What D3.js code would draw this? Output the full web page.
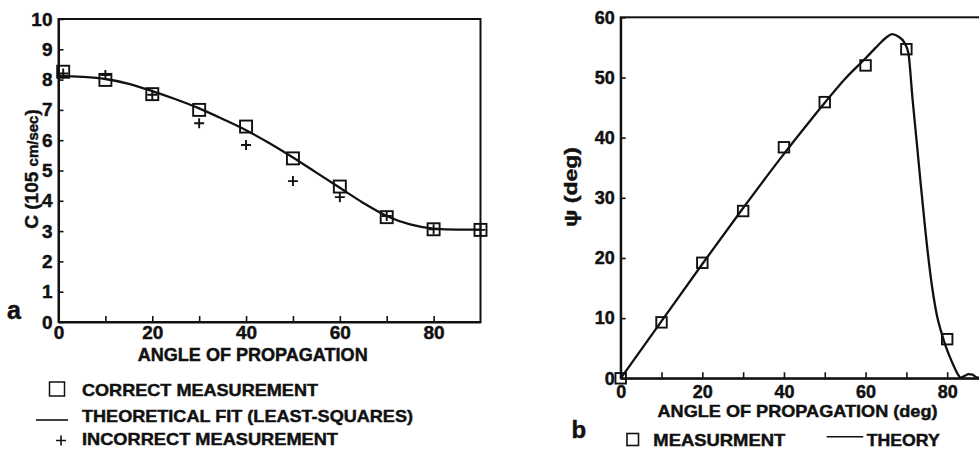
<!DOCTYPE html>
<html>
<head>
<meta charset="utf-8">
<script src="https://cdn.jsdelivr.net/npm/d3@7"></script>
<style>
  html, body { margin: 0; padding: 0; background: #fff; }
  svg { display: block; font-family: "Liberation Sans", Arial, Helvetica, sans-serif; font-weight: bold; }
  text { fill: #111; stroke: #111; stroke-width: 0.45px; }
</style>
</head>
<body>
<svg id="chart" width="979" height="449"></svg>
<script>
// Panel a: phase speed vs angle of propagation
const angleA = [1, 10, 20, 30, 40, 50, 60, 70, 80, 90];
const correctC = [8.26, 7.99, 7.52, 7.0, 6.45, 5.40, 4.47, 3.46, 3.06, 3.04];
const incorrectC = [8.2, 8.15, 7.5, 6.56, 5.84, 4.65, 4.12, 3.5, 3.06, 3.04];
const fitAngle = [0, 5, 10, 15, 20, 25, 30, 35, 40, 45, 50, 55, 60, 65, 70, 75, 80, 85, 90];
const fitC = [8.12, 8.09, 8.02, 7.86, 7.62, 7.35, 7.05, 6.7, 6.33, 5.9, 5.43, 4.93, 4.43, 3.93, 3.5, 3.22, 3.08, 3.05, 3.05];
const yTicksA = [0, 1, 2, 3, 4, 5, 6, 7, 8, 9, 10];

// Panel b: psi vs angle of propagation
const angleB = [0, 10, 20, 30, 40, 50, 60, 70, 80];
const measuredPsi = [0, 9.3, 19.2, 27.8, 38.4, 45.9, 52.0, 54.7, 6.5];
const theoryAngle = [0, 10, 20, 30, 40, 45, 50, 55, 60, 63, 65, 66.5, 68, 69.5, 70.5, 71.5, 72.5, 73.5, 74.5, 75.5, 76.5, 77.5, 78.5, 79.5, 80.5, 81.5, 82.5, 83.3, 84.3, 85.2, 86.2, 87.2, 88.5, 90];
const theoryPsi = [0, 9.5, 19, 28.3, 37.3, 41.6, 45.8, 49.8, 53.2, 55.3, 56.6, 57.2, 56.8, 55.8, 54, 46.5, 39.5, 32.4, 25.6, 19.4, 14.3, 10.4, 7.8, 5.6, 3.8, 2.2, 0.8, 0.1, 0.4, 0.7, 0.6, 0.15, 0, 0];
const yTicksB = [0, 10, 20, 30, 40, 50, 60];
const xTicks = [0, 10, 20, 30, 40, 50, 60, 70, 80, 90];

const svg = d3.select("#chart");
const INK = "#111";

function drawSquares(g, xs, ys, x, y, size, sw) {
  g.selectAll(null).data(xs.map((d, i) => [d, ys[i]])).join("rect")
    .attr("x", d => x(d[0]) - size / 2).attr("y", d => y(d[1]) - size / 2)
    .attr("width", size).attr("height", size)
    .attr("fill", "none").attr("stroke", INK).attr("stroke-width", sw);
}

function styleAxis(g, fontSize) {
  g.selectAll("path.domain").attr("stroke", INK).attr("stroke-width", 2);
  g.selectAll(".tick line").attr("stroke", INK).attr("stroke-width", 1.6);
  g.selectAll(".tick text").attr("fill", INK).attr("font-size", fontSize)
    .attr("font-family", "'Liberation Sans', Arial, sans-serif").attr("font-weight", "bold");
}

// ---------- Panel a ----------
const xA = d3.scaleLinear().domain([0, 90]).range([58.5, 480.5]);
const yA = d3.scaleLinear().domain([0, 10]).range([322, 19]);
const gA = svg.append("g");

gA.append("rect").attr("x", xA(0)).attr("y", yA(10))
  .attr("width", xA(90) - xA(0)).attr("height", yA(0) - yA(10))
  .attr("fill", "none").attr("stroke", INK).attr("stroke-width", 2);

const axLA = gA.append("g").attr("transform", `translate(${xA(0)},0)`)
  .call(d3.axisLeft(yA).tickValues(yTicksA).tickSizeInner(-5).tickSizeOuter(0).tickPadding(6).tickFormat(d3.format("d")));
styleAxis(axLA, 19);
const axBA = gA.append("g").attr("transform", `translate(0,${yA(0)})`)
  .call(d3.axisBottom(xA).tickValues(xTicks.filter(d => d < 90)).tickSizeInner(-6).tickSizeOuter(0).tickPadding(4)
    .tickFormat(d => d % 20 === 0 ? d : ""));
styleAxis(axBA, 19);

gA.append("path")
  .datum(fitAngle.map((d, i) => [d, fitC[i]]))
  .attr("d", d3.line().x(d => xA(d[0])).y(d => yA(d[1])).curve(d3.curveMonotoneX))
  .attr("fill", "none").attr("stroke", INK).attr("stroke-width", 2.3);

drawSquares(gA, angleA, correctC, xA, yA, 12, 1.9);

gA.selectAll(null).data(angleA.map((d, i) => [d, incorrectC[i]])).join("path")
  .attr("d", d => `M${xA(d[0]) - 5},${yA(d[1])}h10M${xA(d[0])},${yA(d[1]) - 5}v10`)
  .attr("stroke", INK).attr("stroke-width", 1.9).attr("fill", "none");

gA.append("text").attr("x", 252.7).attr("y", 361).attr("text-anchor", "middle")
  .attr("font-size", 18).attr("textLength", 230).attr("lengthAdjust", "spacingAndGlyphs")
  .text("ANGLE OF PROPAGATION");

const ylabA = gA.append("text").attr("transform", "translate(37.5,169) rotate(-90)")
  .attr("text-anchor", "middle").attr("font-size", 19);
ylabA.append("tspan").text("C (105 ");
ylabA.append("tspan").attr("font-size", 15).text("cm/sec");
ylabA.append("tspan").text(")");

gA.append("text").attr("x", 7).attr("y", 318.5).attr("font-size", 25).text("a");

// Legend for panel a
gA.append("rect").attr("x", 49.5).attr("y", 382).attr("width", 15).attr("height", 14)
  .attr("fill", "none").attr("stroke", INK).attr("stroke-width", 1.5);
gA.append("line").attr("x1", 36).attr("x2", 68).attr("y1", 420).attr("y2", 420)
  .attr("stroke", INK).attr("stroke-width", 1.6);
gA.append("path").attr("d", "M56,440.5h10M61,435.5v10").attr("stroke", INK).attr("stroke-width", 1.6);
[["CORRECT MEASUREMENT", 395.5, 236, 17], ["THEORETICAL FIT (LEAST-SQUARES)", 421.5, 331, 17], ["INCORRECT MEASUREMENT", 445.3, 256, 16.5]]
  .forEach(([t, yb, w, fs]) => {
    gA.append("text").attr("x", 82).attr("y", yb).attr("font-size", fs)
      .attr("textLength", w).attr("lengthAdjust", "spacingAndGlyphs").text(t);
  });

// ---------- Panel b ----------
const xB = d3.scaleLinear().domain([0, 90]).range([620.7, 988]);
const yB = d3.scaleLinear().domain([0, 60]).range([378.3, 17.3]);
const gB = svg.append("g");

gB.append("rect").attr("x", xB(0)).attr("y", yB(60))
  .attr("width", xB(90) - xB(0)).attr("height", yB(0) - yB(60))
  .attr("fill", "none").attr("stroke", INK).attr("stroke-width", 2);

const axLB = gB.append("g").attr("transform", `translate(${xB(0)},0)`)
  .call(d3.axisLeft(yB).tickValues(yTicksB).tickSizeInner(-5).tickSizeOuter(0).tickPadding(6).tickFormat(d3.format("d")));
styleAxis(axLB, 18);
const axBB = gB.append("g").attr("transform", `translate(0,${yB(0)})`)
  .call(d3.axisBottom(xB).tickValues(xTicks.filter(d => d < 90)).tickSizeInner(-6).tickSizeOuter(0).tickPadding(7)
    .tickFormat(d => d % 20 === 0 ? d : ""));
styleAxis(axBB, 18);

gB.append("path")
  .datum(theoryAngle.map((d, i) => [d, theoryPsi[i]]))
  .attr("d", d3.line().x(d => xB(d[0])).y(d => yB(d[1])).curve(d3.curveMonotoneX))
  .attr("fill", "none").attr("stroke", INK).attr("stroke-width", 2.3);

drawSquares(gB, angleB, measuredPsi, xB, yB, 10.5, 1.9);

gB.append("text").attr("x", 797.5).attr("y", 417.3).attr("text-anchor", "middle")
  .attr("font-size", 17).attr("textLength", 280).attr("lengthAdjust", "spacingAndGlyphs")
  .text("ANGLE OF PROPAGATION (deg)");

gB.append("text").attr("transform", "translate(577,187) rotate(-90)")
  .attr("text-anchor", "middle").attr("font-size", 18)
  .attr("textLength", 80).attr("lengthAdjust", "spacingAndGlyphs")
  .text("\u03C8 (deg)");

gB.append("text").attr("x", 571.5).attr("y", 438.3).attr("font-size", 24).text("b");

// Legend for panel b
gB.append("rect").attr("x", 627).attr("y", 433.5).attr("width", 11.5).attr("height", 12)
  .attr("fill", "none").attr("stroke", INK).attr("stroke-width", 1.6);
gB.append("text").attr("x", 653.3).attr("y", 445.5).attr("font-size", 16.5)
  .attr("textLength", 132).attr("lengthAdjust", "spacingAndGlyphs").text("MEASURMENT");
gB.append("line").attr("x1", 826.7).attr("x2", 863.3).attr("y1", 436.7).attr("y2", 436.7)
  .attr("stroke", INK).attr("stroke-width", 1.6);
gB.append("text").attr("x", 866.7).attr("y", 445.5).attr("font-size", 16.5)
  .attr("textLength", 73).attr("lengthAdjust", "spacingAndGlyphs").text("THEORY");
</script>
</body>
</html>
